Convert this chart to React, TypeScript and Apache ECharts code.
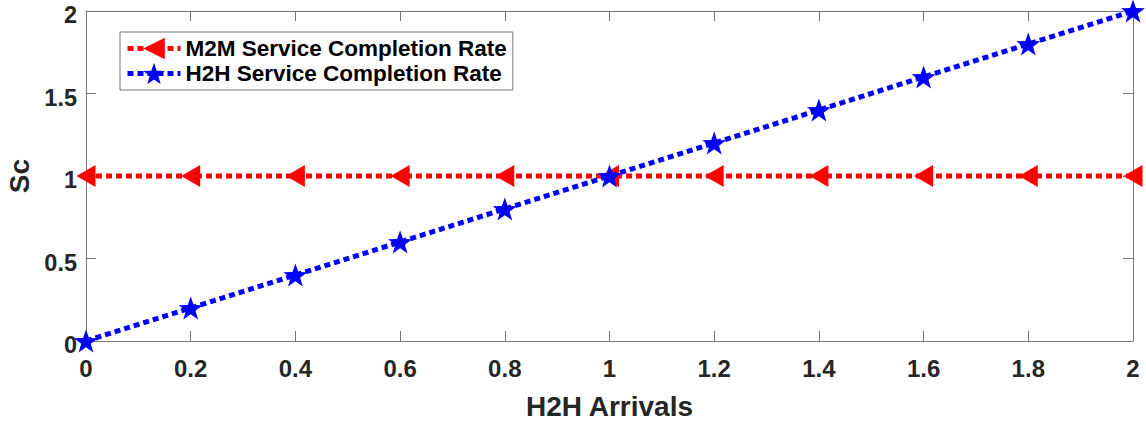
import React, { useEffect, useRef } from "react";
import * as echarts from "echarts";

const arrivals = [0, 0.2, 0.4, 0.6, 0.8, 1.0, 1.2, 1.4, 1.6, 1.8, 2.0];
const m2mRate = [1, 1, 1, 1, 1, 1, 1, 1, 1, 1, 1];
const h2hRate = [0, 0.2, 0.4, 0.6, 0.8, 1.0, 1.2, 1.4, 1.6, 1.8, 2.0];
const seriesNames = ["M2M Service Completion Rate", "H2H Service Completion Rate"];
const xTicks = [0, 0.2, 0.4, 0.6, 0.8, 1, 1.2, 1.4, 1.6, 1.8, 2];
const yTicks = [0, 0.5, 1, 1.5, 2];

const STAR =
  "path://M50,0 L61.75,33.8 L97.55,34.55 L69,56.2 L79.4,90.45 L50,70 L20.6,90.45 L31,56.2 L2.45,34.55 L38.25,33.8 Z";
const TRI_LEFT = "path://M0,50 L100,0 L100,100 Z";

const FONT = "'Liberation Sans', Arial, sans-serif";
const AXIS_COLOR = "#777777";
const TEXT_COLOR = "#262626";

export default function App() {
  const ref = useRef<HTMLDivElement>(null);
  useEffect(() => {
    if (!ref.current) return;
    const chart = echarts.init(ref.current, undefined, { renderer: "svg" });
    const fmt = (v: number) => String(Math.round(v * 10) / 10);
    const axisCommon = {
      type: "value" as const,
      min: 0,
      max: 2,
      axisLine: { show: true, onZero: false, lineStyle: { color: AXIS_COLOR, width: 1 } },
      axisTick: { show: true, inside: true, length: 10, lineStyle: { color: AXIS_COLOR, width: 1 } },
      splitLine: { show: false },
    };
    chart.setOption({
      animation: false,
      backgroundColor: "#ffffff",
      grid: { left: 86, top: 11, width: 1047, height: 330, containLabel: false, outerBoundsMode: "none" },
      legend: {
        orient: "vertical",
        left: 120,
        top: 32,
        data: seriesNames,
        itemWidth: 53,
        itemHeight: 27,
        itemGap: 2,
        padding: [5, 6, 5, 5],
        borderColor: AXIS_COLOR,
        borderWidth: 1,
        backgroundColor: "#ffffff",
        lineStyle: { width: 5, type: [6, 4], cap: "butt" },
        textStyle: { fontFamily: FONT, fontSize: 22.5, fontWeight: "bold", color: "#000000" },
      },
      xAxis: [
        {
          ...axisCommon,
          interval: 0.2,
          position: "bottom",
          name: "H2H Arrivals",
          nameLocation: "middle",
          nameGap: 51,
          nameTextStyle: { fontFamily: FONT, fontSize: 28, fontWeight: "bold", color: TEXT_COLOR },
          axisLabel: {
            show: true,
            margin: 15,
            fontFamily: FONT,
            fontSize: 24,
            fontWeight: "bold",
            color: TEXT_COLOR,
            formatter: (v: number) => (xTicks.some((t) => Math.abs(t - v) < 1e-6) ? fmt(v) : ""),
          },
        },
        {
          ...axisCommon,
          interval: 0.2,
          position: "top",
          axisLabel: { show: false },
        },
      ],
      yAxis: [
        {
          ...axisCommon,
          interval: 0.5,
          position: "left",
          name: "Sc",
          nameLocation: "middle",
          nameGap: 51,
          nameTextStyle: { fontFamily: FONT, fontSize: 28, fontWeight: "bold", color: TEXT_COLOR },
          axisLabel: {
            show: true,
            margin: 9,
            formatter: (v: number) =>
              yTicks.some((t) => Math.abs(t - v) < 1e-6) ? `{v|${fmt(v)}}` : "",
            rich: {
              v: {
                fontFamily: FONT,
                fontSize: 23.5,
                fontWeight: "bold",
                color: TEXT_COLOR,
                lineHeight: 24,
                padding: [8, 0, 0, 0],
              },
            },
          },
        },
        {
          ...axisCommon,
          interval: 0.5,
          position: "right",
          axisLabel: { show: false },
        },
      ],
      series: [
        {
          name: seriesNames[0],
          type: "line",
          data: arrivals.map((x, i) => [x, m2mRate[i]]),
          symbol: TRI_LEFT,
          symbolSize: [19, 22],
          symbolKeepAspect: false,
          showAllSymbol: true,
          lineStyle: { color: "#ff0000", width: 5, type: [6, 4], cap: "butt" },
          itemStyle: { color: "#ff0000", borderWidth: 0 },
          z: 2,
        },
        {
          name: seriesNames[1],
          type: "line",
          data: arrivals.map((x, i) => [x, h2hRate[i]]),
          symbol: STAR,
          symbolSize: 24,
          symbolKeepAspect: true,
          showAllSymbol: true,
          lineStyle: { color: "#0000ff", width: 5, type: [6, 4], cap: "butt" },
          itemStyle: { color: "#0000ff", borderWidth: 0 },
          z: 3,
        },
      ],
    });
    return () => chart.dispose();
  }, []);
  return <div ref={ref} style={{ width: 1146, height: 421, position: "absolute", left: 0, top: 0 }} />;
}
